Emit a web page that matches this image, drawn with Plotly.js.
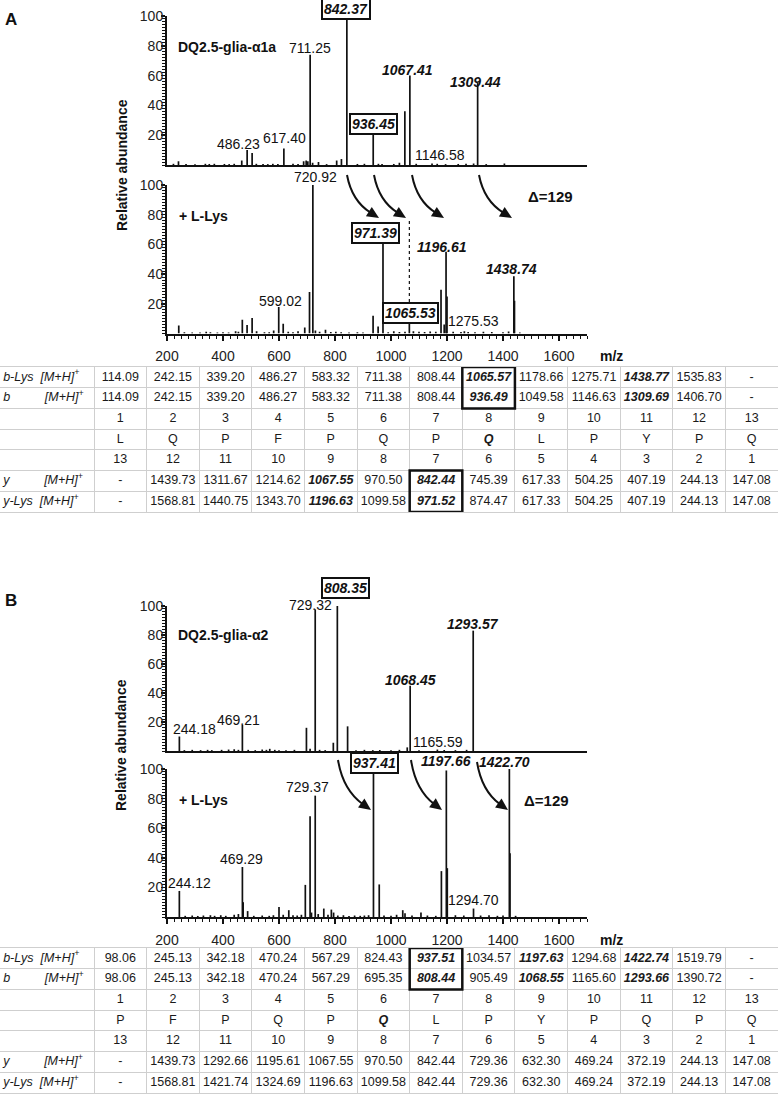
<!DOCTYPE html>
<html><head><meta charset="utf-8">
<script src="https://cdn.plot.ly/plotly-3.0.1.min.js"></script>
<style>html,body{margin:0;padding:0;background:#fff}</style>
</head><body><div id="chart" style="width:778px;height:1111px"></div>
<script>
// ---------------- DATA ----------------
const mzTicks = [200,400,600,800,1000,1200,1400,1600];
const abTicks = [20,40,60,80,100];

// Panel A, native peptide DQ2.5-glia-α1a
const mzA1  = [223,241,268,300,337,351,369,405,422,440,467,486.23,504,519,543,560,578,596,617.40,650,668,688,697,703,711.25,720,741,770,806,823,842.37,880,905,936.45,955,968,1010,1030,1049.5,1067.41,1090,1146.58,1165,1195,1240,1268,1295,1309.44,1340,1405];
const intA1 = [0.8,2.5,0.6,0.5,0.8,0.7,0.8,0.7,0.6,0.8,3,10,8,0.8,0.7,0.6,0.8,0.7,11,0.8,0.7,2.5,3,2.5,74,1.5,2,0.6,3,4,100,0.7,0.8,21.5,0.8,0.6,0.7,1.5,36,60,0.8,1,0.8,0.6,0.7,0.8,1,55,0.6,1];
// Panel A, + L-Lys
const mzA2  = [242,262,290,318,340,355,380,400,420,445,455,469,486,504,520,548,565,581,599.02,615,633,650,668,692,709,720.92,730,745,766,785,803,822,850,880,900,936,954,971.39,990,1010,1030,1050,1065.53,1080,1100,1120,1140,1160,1178.66,1190,1196.61,1200,1222,1250,1262,1275.53,1300,1330,1360,1400,1420,1438.74,1441,1460];
const intA2 = [5.4,0.8,0.7,0.6,1.2,0.8,0.7,0.8,0.6,1.5,1.2,9.2,5.8,10.4,1.5,0.8,0.8,2,17.8,6.5,1.2,0.8,1.5,4,28,100,2,1.2,2.5,1,1.2,0.8,0.7,0.8,0.6,12,4.7,60.5,0.8,1.5,1,1.2,7.6,1.5,1.2,1,1.4,1.2,29.5,6,55,25,1.2,1,1.5,1,0.8,1.2,1,0.8,1.4,38.5,22,0.6];
// Panel B, native peptide DQ2.5-glia-α2
const mzB1  = [244.18,262,290,320,345,360,395,420,440,455,469.21,490,515,540,555,567,585,600,625,655,698,711,729.32,745,765,794,808.35,845,875,905,935,960,1000,1030,1058,1068.45,1100,1165.59,1190,1230,1270,1293.57];
const intB1 = [10,0.6,0.8,0.6,0.8,0.6,0.8,1,1.2,0.8,18,0.8,0.6,1,0.8,1.5,0.8,0.6,0.6,0.8,16,1.5,97.7,0.8,0.6,5.7,100,17,0.6,0.8,0.6,0.7,0.6,0.8,2.5,45,0.6,1,0.7,0.6,0.8,83];
// Panel B, + L-Lys
const mzB2  = [244.12,265,290,310,330,355,370,392,410,440,455,469.29,472,488,510,540,565,580,600,615,635,650,665,680,694,711,716,729.37,740,760,775,787,795,810,830,850,870,890,905,920,937.41,958,975,1000,1020,1042,1050,1075,1107,1130,1160,1180,1197.66,1201,1230,1260,1294.70,1320,1350,1380,1400,1422.70,1425,1445];
const intB2 = [17.6,0.8,1,0.7,1,1.2,0.8,1.2,0.8,1.5,2,33.8,10,4,0.8,1,0.8,1.2,6.8,1.5,4.6,1.2,1,1.5,21.7,68,3,82,2,5.7,1.5,5,3,1,1.2,0.7,1,0.8,1,1.2,97,22,1,0.8,1.5,4.6,2.5,1,3,1,0.8,31,99,33,1.2,1,5.7,1,1.2,0.8,1,100,43,0.8];

// Peak label texts
const labA1 = ['842.37','711.25','1067.41','1309.44','936.45','486.23','617.40','1146.58'];
const labA2 = ['720.92','971.39','1196.61','1438.74','599.02','1065.53','1275.53'];
const labB1 = ['808.35','729.32','1293.57','1068.45','244.18','469.21','1165.59'];
const labB2 = ['937.41','1197.66','1422.70','729.37','469.29','244.12','1294.70'];
const nameA = 'DQ2.5-glia-α1a', nameB = 'DQ2.5-glia-α2', lysName = '+ L-Lys', deltaText = 'Δ=129';

// Tables
const NB = '\u00a0';
const rowLabels = ['b-Lys' + NB.repeat(2) + '[M+H]<sup>+</sup>', 'b' + NB.repeat(10) + '[M+H]<sup>+</sup>', '', '', '', 'y' + NB.repeat(10) + '[M+H]<sup>+</sup>', 'y-Lys' + NB.repeat(2) + '[M+H]<sup>+</sup>'];
const posFwd = ['1','2','3','4','5','6','7','8','9','10','11','12','13'];
const posRev = ['13','12','11','10','9','8','7','6','5','4','3','2','1'];
const bLysA = ['114.09','242.15','339.20','486.27','583.32','711.38','808.44','1065.57','1178.66','1275.71','1438.77','1535.83','-'];
const bA    = ['114.09','242.15','339.20','486.27','583.32','711.38','808.44','936.49','1049.58','1146.63','1309.69','1406.70','-'];
const seqA  = ['L','Q','P','F','P','Q','P','Q','L','P','Y','P','Q'];
const yA    = ['-','1439.73','1311.67','1214.62','1067.55','970.50','842.44','745.39','617.33','504.25','407.19','244.13','147.08'];
const yLysA = ['-','1568.81','1440.75','1343.70','1196.63','1099.58','971.52','874.47','617.33','504.25','407.19','244.13','147.08'];
const bLysB = ['98.06','245.13','342.18','470.24','567.29','824.43','937.51','1034.57','1197.63','1294.68','1422.74','1519.79','-'];
const bB    = ['98.06','245.13','342.18','470.24','567.29','695.35','808.44','905.49','1068.55','1165.60','1293.66','1390.72','-'];
const seqB  = ['P','F','P','Q','P','Q','L','P','Y','P','Q','P','Q'];
const yB    = ['-','1439.73','1292.66','1195.61','1067.55','970.50','842.44','729.36','632.30','469.24','372.19','244.13','147.08'];
const yLysB = ['-','1568.81','1421.74','1324.69','1196.63','1099.58','842.44','729.36','632.30','469.24','372.19','244.13','147.08'];
// emphasised cells [row, column(1-based)] and boxed cells [row, column, rows spanned]
const emphA = [[0,8],[0,11],[1,8],[1,11],[3,8],[5,5],[5,7],[6,5],[6,7]];
const emphB = [[0,7],[0,9],[0,11],[1,7],[1,9],[1,11],[3,6]];
const boxedA = [[0,8,2],[5,7,2]];
const boxedB = [[0,7,2]];

// ---------------- LAYOUT ----------------
const W = 778, H = 1111;
const FONT = 'Liberation Sans, Arial, Helvetica, sans-serif';
const INK = '#111';
const pX = px => px / W, pY = py => 1 - py / H;
const xDom = [pX(167), pX(587)];
const yPx = { y: [16, 165], y2: [185, 333.5], y3: [606, 751], y4: [769, 917] };
const yDoms = {}; const pxPerUnit = {};
Object.keys(yPx).forEach(k => { const [t, b] = yPx[k]; yDoms[k] = [pY(b), pY(t)]; pxPerUnit[k] = (b - t) / 100; });

function stick(mz, inten, xa, ya) {
  const x = [], y = [];
  mz.forEach((m, i) => { x.push(m, m, null); y.push(0, inten[i], null); });
  return { type: 'scatter', mode: 'lines', x, y, xaxis: xa, yaxis: ya,
           line: { color: INK, width: 1.7 }, hoverinfo: 'skip', showlegend: false };
}

// label placement: [x (m/z), y (abundance), style]
const placeA1 = [[838,104.5,'box'],[710.7,78.3,'n'],[1058,63.8,'bi'],[1302.5,55.9,'bi'],[939,27.5,'box'],[454.6,14.1,'n'],[621.4,18.1,'n'],[1175,6.7,'n']];
const placeA2 = [[728.6,105.2,'n'],[944,67.5,'box'],[1183,58,'bi'],[1431,43.2,'bi'],[603.6,21.9,'n'],[1071,14,'box'],[1294,8.4,'n']];
const placeB1 = [[836.8,112.2,'box'],[710.7,100.7,'n'],[1294,87.4,'bi'],[1071,49,'bi'],[297.5,15,'n'],[454.6,21.4,'n'],[1169,6.4,'n']];
const placeB2 = [[940,103.9,'box'],[1195,105.6,'bi'],[1404.6,104.9,'bi'],[701,87.6,'n'],[466.8,39.2,'n'],[282,22.8,'n'],[1294,11.5,'n']];

function labels(texts, place, xa, ya) {
  return texts.map((t, i) => {
    const [x, y, s] = place[i];
    const yIn = Math.min(y, 100);
    const a = { x, y: yIn, yshift: (y - yIn) * pxPerUnit[ya], xref: xa, yref: ya, showarrow: false,
                xanchor: 'center', yanchor: 'middle', font: { family: FONT, size: 14, color: INK }, text: t };
    if (s !== 'n') a.text = '<b><i>' + t + '</i></b>';
    if (s === 'box') { a.bordercolor = INK; a.borderwidth = 2; a.borderpad = 1; a.bgcolor = 'white'; }
    return a;
  });
}

function paperText(text, px, py, opts) {
  return Object.assign({ x: pX(px), y: pY(py), xref: 'paper', yref: 'paper', showarrow: false,
    xanchor: 'center', yanchor: 'middle', text, font: { family: FONT, size: 14, color: INK } }, opts || {});
}

// curved arrows [startX, startY, tipX, tipY] in pixels
const arrowsPx = [[347,175,379,218],[374,175,406,218],[412,175,444,218],[479,175,512,218],
                  [338,760,371,810],[411,760,442,810],[477,762,508,810]];
function arrowShapes(a) {
  const [x0, y0, x1, y1] = a;
  const cx = x0 + 0.15 * (x1 - x0), cy = y0 + 0.6 * (y1 - y0);
  let dx = x1 - cx, dy = y1 - cy; const L = Math.hypot(dx, dy); dx /= L; dy /= L;
  const hl = 12, hw = 5.5;
  const bx = x1 - dx * hl, by = y1 - dy * hl;
  const nx = -dy, ny = dx;
  const P = (x, y) => pX(x) + ',' + pY(y);
  return [
    { type: 'path', xref: 'paper', yref: 'paper', path: `M ${P(x0,y0)} Q ${P(cx,cy)} ${P(bx+dx*2,by+dy*2)}`, line: { color: INK, width: 2 } },
    { type: 'path', xref: 'paper', yref: 'paper', path: `M ${P(x1,y1)} L ${P(bx+nx*hw,by+ny*hw)} L ${P(bx-nx*hw,by-ny*hw)} Z`, fillcolor: INK, line: { width: 0 } }
  ];
}

// ---- tables drawn on their own axes: column c centred at x=c (width 1), rows at y=0..6 ----
const labelW = 94, colW = (W - labelW) / 13;
const labelCols = labelW / colW;
const xLeft = 0.5 - labelCols;
const tabPx = { A: [367, 512], B: [948, 1093] };
function tableText(rows, emph, xa, ya) {
  const x = [], y = [], text = [], pos = [];
  rows.forEach((r, ri) => {
    if (rowLabels[ri]) { x.push(xLeft + 0.06); y.push(ri); text.push('<i>' + rowLabels[ri] + '</i>'); pos.push('middle right'); }
    r.forEach((v, ci) => {
      const isEm = emph.some(e => e[0] === ri && e[1] === ci + 1);
      x.push(ci + 1); y.push(ri); text.push(isEm ? '<b><i>' + v + '</i></b>' : v); pos.push('middle center');
    });
  });
  return { type: 'scatter', mode: 'text', x, y, text, textposition: pos, xaxis: xa, yaxis: ya,
           textfont: { family: FONT, size: 12.5, color: '#1a1a1a' }, cliponaxis: false, hoverinfo: 'skip', showlegend: false };
}
function tableAxes(px) {
  const gx = [0.5].concat(posFwd.map(p => +p + 0.5));
  return [
    { domain: [0, 1], range: [xLeft, 13.5], showgrid: true, gridcolor: '#cfcfcf', gridwidth: 1,
      tickvals: gx, showticklabels: false, ticks: '', zeroline: false, showline: true, mirror: true,
      linecolor: '#cfcfcf', linewidth: 1, fixedrange: true },
    { domain: [pY(px[1]), pY(px[0])], range: [6.5, -0.5], showgrid: true, gridcolor: '#cfcfcf', gridwidth: 1,
      tickvals: [0.5,1.5,2.5,3.5,4.5,5.5], showticklabels: false, ticks: '', zeroline: false, showline: true, mirror: true,
      linecolor: '#cfcfcf', linewidth: 1, fixedrange: true }
  ];
}
function boxShapes(boxes, xa, ya) {
  return boxes.map(([r, c, n]) => ({ type: 'rect', xref: xa, yref: ya, x0: c - 0.5, x1: c + 0.5,
    y0: r - 0.5, y1: r - 0.5 + n, line: { color: INK, width: 2.5 } }));
}

const traces = [
  stick(mzA1, intA1, 'x', 'y'), stick(mzA2, intA2, 'x2', 'y2'),
  stick(mzB1, intB1, 'x3', 'y3'), stick(mzB2, intB2, 'x4', 'y4'),
  tableText([bLysA, bA, posFwd, seqA, posRev, yA, yLysA], emphA, 'x5', 'y5'),
  tableText([bLysB, bB, posFwd, seqB, posRev, yB, yLysB], emphB, 'x6', 'y6')
];

function xAxis(anchor, withTicks) {
  const ax = { domain: xDom, range: [200, 1700], anchor, showgrid: false, zeroline: false,
               showline: true, linecolor: INK, linewidth: 2, fixedrange: true };
  if (withTicks) Object.assign(ax, { ticks: 'outside', ticklen: 5, tickwidth: 1.5, tickcolor: INK,
      tickvals: mzTicks, ticktext: mzTicks.map(String), ticklabelstandoff: 4,
      tickfont: { family: FONT, size: 14, color: '#222' },
      minor: { ticks: 'outside', ticklen: 3, tickwidth: 1, tickcolor: INK, dtick: 25, tick0: 200 } });
  else Object.assign(ax, { ticks: '', showticklabels: false });
  return ax;
}
function yAxis(dom, anchor) {
  return { domain: dom, range: [0, 100], anchor, showgrid: false, zeroline: false, showline: true,
    linecolor: INK, linewidth: 2, ticks: 'outside', ticklen: 4, tickwidth: 1.5, tickcolor: INK,
    tickvals: abTicks, ticktext: abTicks.map(String), tickfont: { family: FONT, size: 14, color: '#222' },
    ticklabelstandoff: -5,
    minor: { ticks: 'outside', ticklen: 3, tickwidth: 1, tickcolor: INK, dtick: 2, tick0: 0 }, fixedrange: true };
}

const annotations = [].concat(
  labels(labA1, placeA1, 'x', 'y'), labels(labA2, placeA2, 'x2', 'y2'),
  labels(labB1, placeB1, 'x3', 'y3'), labels(labB2, placeB2, 'x4', 'y4'),
  [
    { x: 232, y: 79.4, xref: 'x', yref: 'y', text: '<b>' + nameA + '</b>', showarrow: false, xanchor: 'left', yanchor: 'middle', font: { family: FONT, size: 14, color: INK } },
    { x: 236.8, y: 79.1, xref: 'x2', yref: 'y2', text: '<b>' + lysName + '</b>', showarrow: false, xanchor: 'left', yanchor: 'middle', font: { family: FONT, size: 14, color: INK } },
    { x: 1571, y: 92, xref: 'x2', yref: 'y2', text: '<b>' + deltaText + '</b>', showarrow: false, xanchor: 'center', yanchor: 'middle', font: { family: FONT, size: 15, color: INK } },
    { x: 232, y: 80, xref: 'x3', yref: 'y3', text: '<b>' + nameB + '</b>', showarrow: false, xanchor: 'left', yanchor: 'middle', font: { family: FONT, size: 14, color: INK } },
    { x: 235.7, y: 79, xref: 'x4', yref: 'y4', text: '<b>' + lysName + '</b>', showarrow: false, xanchor: 'left', yanchor: 'middle', font: { family: FONT, size: 14, color: INK } },
    { x: 1553.6, y: 79, xref: 'x4', yref: 'y4', text: '<b>' + deltaText + '</b>', showarrow: false, xanchor: 'center', yanchor: 'middle', font: { family: FONT, size: 15, color: INK } },
    paperText('<b>A</b>', 3, 20, { xanchor: 'left', font: { family: FONT, size: 17, color: INK } }),
    paperText('<b>B</b>', 3, 600, { xanchor: 'left', font: { family: FONT, size: 17, color: INK } }),
    paperText('<b>Relative abundance</b>', 122, 165, { textangle: -90 }),
    paperText('<b>Relative abundance</b>', 121, 745, { textangle: -90 }),
    paperText('<b>m/z</b>', 611, 356),
    paperText('<b>m/z</b>', 611, 940)
  ]
);

const shapes = [].concat(
  ...arrowsPx.map(arrowShapes),
  [{ type: 'line', xref: 'x2', yref: 'paper', x0: 1065.53, x1: 1065.53, y0: pY(302), y1: pY(220),
     line: { color: INK, width: 1.2, dash: 'dot' } }],
  boxShapes(boxedA, 'x5', 'y5'), boxShapes(boxedB, 'x6', 'y6')
);

const [tx5, ty5] = tableAxes(tabPx.A), [tx6, ty6] = tableAxes(tabPx.B);
tx5.anchor = 'y5'; ty5.anchor = 'x5'; tx6.anchor = 'y6'; ty6.anchor = 'x6';

const layout = {
  width: W, height: H, margin: { l: 0, r: 0, t: 0, b: 0 }, paper_bgcolor: 'white', plot_bgcolor: 'rgba(0,0,0,0)',
  showlegend: false, font: { family: FONT, color: INK },
  xaxis: xAxis('y', false), xaxis2: xAxis('y2', true), xaxis3: xAxis('y3', false), xaxis4: xAxis('y4', true),
  yaxis: yAxis(yDoms.y, 'x'), yaxis2: yAxis(yDoms.y2, 'x2'), yaxis3: yAxis(yDoms.y3, 'x3'), yaxis4: yAxis(yDoms.y4, 'x4'),
  xaxis5: tx5, yaxis5: ty5, xaxis6: tx6, yaxis6: ty6,
  annotations, shapes
};
Plotly.newPlot('chart', traces, layout, { staticPlot: true, displayModeBar: false });
</script></body></html>
